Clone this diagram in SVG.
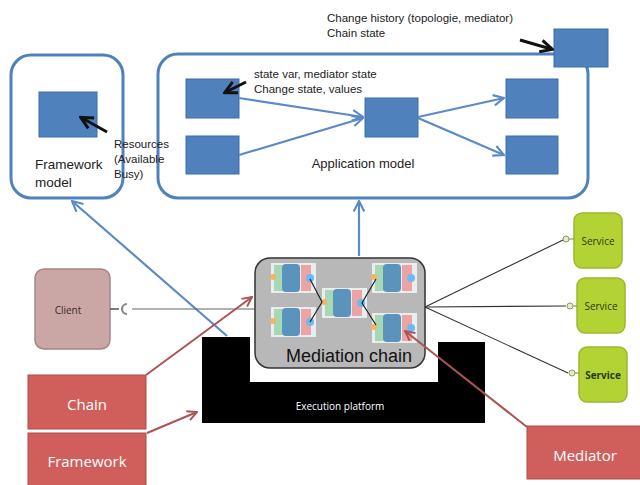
<svg xmlns="http://www.w3.org/2000/svg" width="640" height="485" viewBox="0 0 640 485">
<defs>
<style>
.box{fill:#fff;stroke:#4f81bd;stroke-width:3}
.blk{fill:#4f81bd;stroke:#3b6ea8;stroke-width:1}
.con{stroke:#5b8ac6;stroke-width:2.2;fill:none}
.t{font-family:"Liberation Sans",Arial,sans-serif;fill:#222}
.red{fill:#d05f5c;stroke:#b04a48;stroke-width:1}
.rt{font-family:"Open Sans","Liberation Sans",sans-serif;fill:#fff;font-size:15px;text-anchor:middle}
.svc{fill:#b3d335;stroke:#9cb82a;stroke-width:1.5}
.st{font-family:"Open Sans","Liberation Sans",sans-serif;fill:#2a3a10;font-size:10px;text-anchor:middle}
.ra{stroke:#a85553;stroke-width:2;fill:none}
.bl{stroke:#222;stroke-width:1.2;fill:none}
</style>
<marker id="ab" viewBox="0 0 10 10" refX="9" refY="5" markerWidth="6" markerHeight="6" orient="auto"><path d="M1,1 L9,5 L1,9" fill="none" stroke="#5b8ac6" stroke-width="1.6"/></marker>
<marker id="ak" viewBox="0 0 10 10" refX="8" refY="5" markerWidth="5" markerHeight="5" orient="auto"><path d="M1,1 L9,5 L1,9" fill="none" stroke="#111" stroke-width="2"/></marker>
<marker id="ar" viewBox="0 0 10 10" refX="9" refY="5" markerWidth="6" markerHeight="6" orient="auto"><path d="M1,1 L9,5 L1,9" fill="none" stroke="#a85553" stroke-width="1.6"/></marker>
<g id="med">
<rect x="0" y="0" width="45" height="30" fill="#e9edf0"/>
<rect x="3" y="2" width="9" height="26" fill="#a6d9b3"/>
<rect x="11" y="1" width="18" height="28" rx="4" fill="#5a93bb"/>
<rect x="30" y="2" width="10" height="26" fill="#eba3a3"/>
<circle cx="2" cy="14" r="3" fill="#f4b366"/>
<circle cx="39" cy="15" r="4" fill="#6cbaf2"/>
</g>
</defs>
<rect width="640" height="485" fill="#fff"/>

<!-- Execution platform -->
<g id="execution-platform">
<path d="M202,337 H250 V382 H438 V342 H485 V423 H202 Z" fill="#000"/>
<text x="340" y="410" font-family="'Open Sans','Liberation Sans',sans-serif" font-size="10" fill="#fff" text-anchor="middle">Execution platform</text>
</g>

<!-- Framework model -->
<g id="framework-model">
<rect class="box" x="11" y="55" width="112" height="143" rx="20"/>
<rect class="blk" x="39" y="92" width="58" height="45"/>
<text class="t" x="35" y="169" font-size="13.5">Framework</text>
<text class="t" x="35" y="187" font-size="13.5">model</text>
</g>

<!-- Application model -->
<g id="application-model">
<rect class="box" x="158" y="54" width="430" height="144" rx="20"/>
<rect class="blk" x="186" y="79" width="53" height="39"/>
<rect class="blk" x="186" y="136" width="53" height="38"/>
<rect class="blk" x="365" y="98" width="53" height="39"/>
<rect class="blk" x="506" y="79" width="52" height="39"/>
<rect class="blk" x="506" y="136" width="52" height="38"/>
<text class="t" x="363" y="168" font-size="13" text-anchor="middle">Application model</text>
<text class="t" x="254" y="78" font-size="11.5">state var, mediator state</text>
<text class="t" x="254" y="93" font-size="11.5">Change state, values</text>
</g>

<g id="resources-note">
<text class="t" x="114" y="148" font-size="11.5">Resources</text>
<text class="t" x="114" y="163" font-size="11.5">(Available</text>
<text class="t" x="114" y="178" font-size="11.5">Busy)</text>
</g>

<g id="chain-state">
<rect class="blk" x="554" y="29" width="54" height="38"/>
<text class="t" x="327" y="22" font-size="11.5">Change history (topologie, mediator)</text>
<text class="t" x="327" y="37" font-size="11.5">Chain state</text>
</g>

<!-- Client -->
<g id="client">
<rect x="35" y="269" width="75" height="80" rx="9" fill="#caa6a4" stroke="#a88583" stroke-width="1.5"/>
<text x="68" y="314" font-family="'Open Sans','Liberation Sans',sans-serif" font-size="10" fill="#3a2a2a" text-anchor="middle">Client</text>
</g>

<!-- Services -->
<g id="service-1">
<rect class="svc" x="574" y="213" width="48" height="55" rx="8"/>
<text class="st" x="598" y="245">Service</text>
</g>
<g id="service-2">
<rect class="svc" x="577" y="278" width="48" height="55" rx="8"/>
<text class="st" x="601" y="310">Service</text>
</g>
<g id="service-3">
<rect class="svc" x="579" y="347" width="48" height="55" rx="8"/>
<text class="st" x="603" y="379" font-weight="bold">Service</text>
</g>

<!-- Connectors -->
<g id="connectors">
<line class="con" x1="239" y1="98" x2="363" y2="117" marker-end="url(#ab)"/>
<line class="con" x1="239" y1="155" x2="363" y2="118" marker-end="url(#ab)"/>
<line class="con" x1="418" y1="117" x2="504" y2="98" marker-end="url(#ab)"/>
<line class="con" x1="418" y1="118" x2="504" y2="155" marker-end="url(#ab)"/>
<line class="con" x1="359" y1="256" x2="359" y2="201" marker-end="url(#ab)"/>
<line class="con" x1="227" y1="336" x2="72" y2="201" marker-end="url(#ab)"/>
<line x1="246" y1="82" x2="226" y2="92" stroke="#111" stroke-width="3" marker-end="url(#ak)"/>
<line x1="107" y1="132" x2="82" y2="118" stroke="#111" stroke-width="3" marker-end="url(#ak)"/>
<line x1="520" y1="40" x2="551" y2="49" stroke="#111" stroke-width="3" marker-end="url(#ak)"/>
<!-- client -->
<line x1="110" y1="309" x2="119" y2="309" stroke="#555" stroke-width="1.5"/>
<path d="M127,304 A5,5 0 0 0 127,314" fill="none" stroke="#888" stroke-width="2.2"/>
<line x1="132" y1="309" x2="255" y2="309" stroke="#666" stroke-width="1.2"/>
<!-- services -->
<line x1="425" y1="307" x2="563" y2="240" stroke="#333" stroke-width="1.1"/>
<line x1="425" y1="307" x2="566" y2="306" stroke="#333" stroke-width="1.1"/>
<line x1="425" y1="307" x2="568" y2="373" stroke="#333" stroke-width="1.1"/>
<circle cx="566" cy="239" r="3" fill="#e3ecc8" stroke="#8a9a60"/>
<circle cx="570" cy="306" r="3" fill="#e3ecc8" stroke="#8a9a60"/>
<circle cx="572" cy="373" r="3" fill="#e3ecc8" stroke="#8a9a60"/>
<line x1="569" y1="239" x2="574" y2="239" stroke="#8a9a60" stroke-width="1.2"/>
<line x1="573" y1="306" x2="577" y2="306" stroke="#8a9a60" stroke-width="1.2"/>
<line x1="575" y1="373" x2="579" y2="373" stroke="#8a9a60" stroke-width="1.2"/>
</g>

<!-- Mediation chain -->
<g id="mediation-chain">
<rect x="255" y="258" width="170" height="110" rx="15" fill="#b8b8b8" stroke="#333" stroke-width="1.5"/>
<use href="#med" x="271" y="263"/>
<use href="#med" x="271" y="307"/>
<use href="#med" x="322" y="288"/>
<use href="#med" x="372" y="263"/>
<use href="#med" x="372" y="313"/>
<path class="bl" d="M310,279 L322,302 L310,322"/>
<path class="bl" d="M376,279 L362,303 L376,325"/>
<text x="349" y="362" font-family="'Liberation Sans',Arial,sans-serif" font-size="18" fill="#111" text-anchor="middle">Mediation chain</text>
</g>

<!-- Red labels -->
<g id="chain-label">
<rect class="red" x="28" y="375" width="118" height="54"/>
<text class="rt" x="87" y="410">Chain</text>
</g>
<g id="framework-label">
<rect class="red" x="28" y="433" width="118" height="60"/>
<text class="rt" x="87" y="467">Framework</text>
</g>
<g id="mediator-label">
<rect class="red" x="527" y="426" width="120" height="53"/>
<text class="rt" x="585" y="461">Mediator</text>
</g>
<g id="red-connectors">
<line class="ra" x1="146" y1="375" x2="252" y2="297" marker-end="url(#ar)"/>
<line class="ra" x1="147" y1="433" x2="197" y2="412" marker-end="url(#ar)"/>
<line class="ra" x1="527" y1="427" x2="405" y2="331" marker-end="url(#ar)"/>
</g>
</svg>
